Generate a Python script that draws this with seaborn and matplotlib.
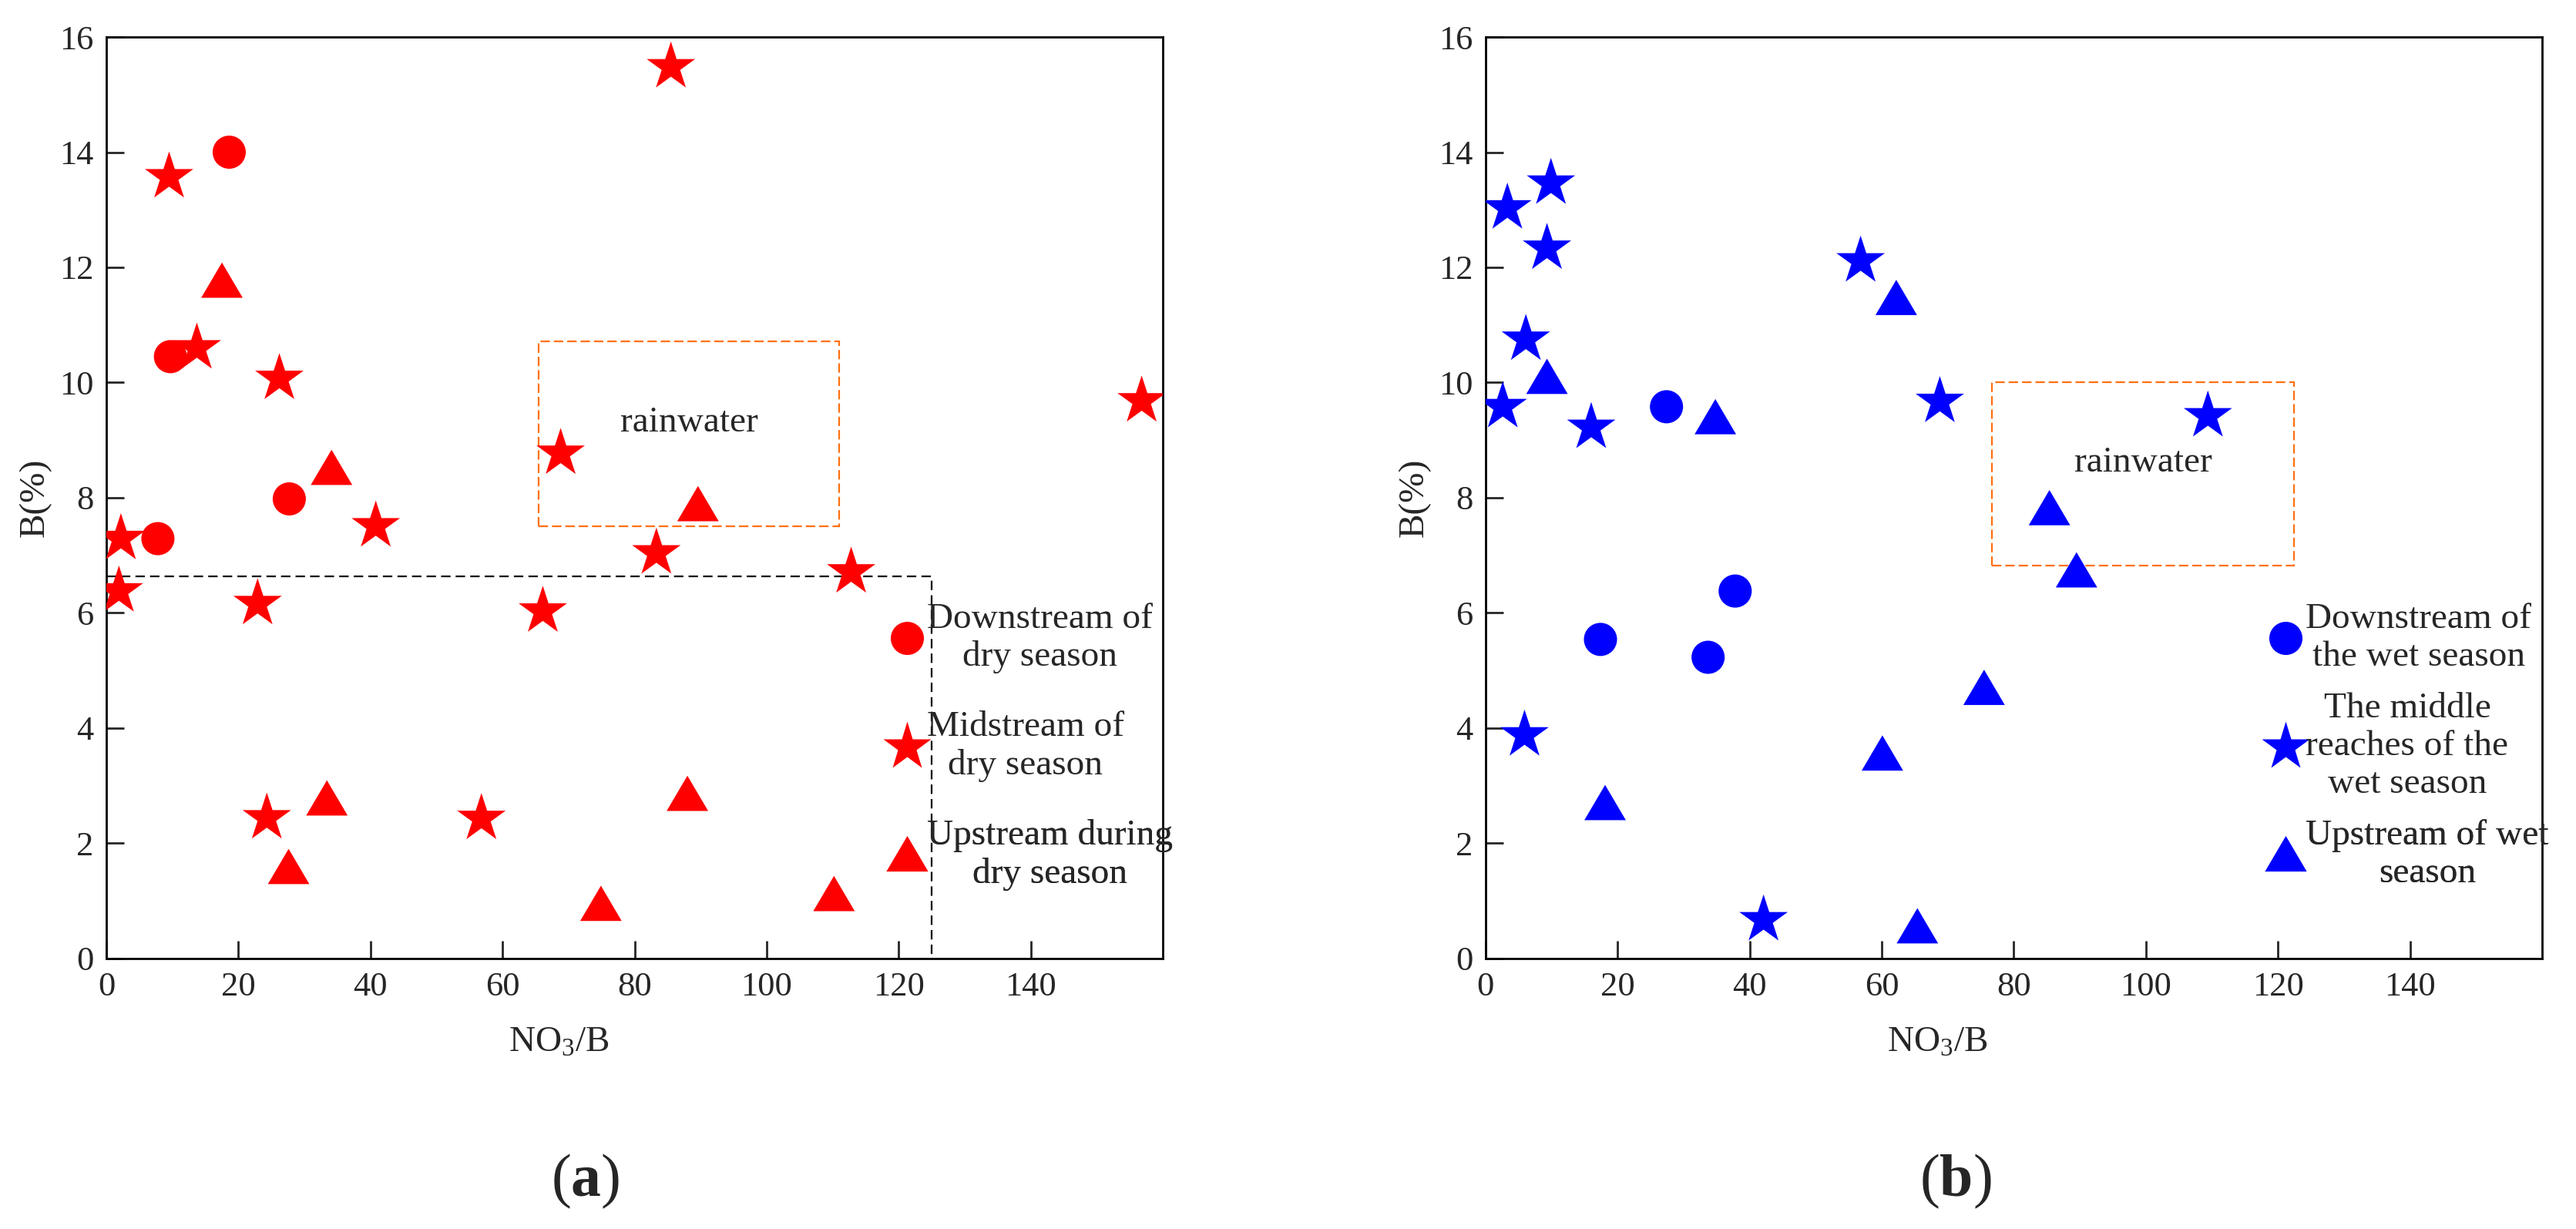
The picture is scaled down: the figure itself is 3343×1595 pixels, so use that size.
import numpy as np
import pandas as pd
import seaborn as sns
import matplotlib.pyplot as plt
from matplotlib.lines import Line2D
from matplotlib.patches import Rectangle

# panel (a) dry season
dry_down_x = [18.6, 9.7, 27.7, 7.8]
dry_down_y = [14.0, 10.45, 7.98, 7.29]
dry_mid_x = [85.5, 9.5, 13.7, 26.2, 156.8, 68.8, 40.8, 2.2, 83.3, 112.8, 1.9, 22.9, 66.1, 24.3, 56.8]
dry_mid_y = [15.48, 13.57, 10.6, 10.07, 9.68, 8.77, 7.51, 7.29, 7.04, 6.71, 6.38, 6.16, 6.03, 2.44, 2.43]
dry_up_x = [17.5, 34.1, 89.6, 33.4, 88.0, 27.6, 74.9, 110.2]
dry_up_y = [11.76, 8.51, 7.88, 2.77, 2.85, 1.58, 0.94, 1.11]

# panel (b) wet season
wet_down_x = [27.4, 37.8, 17.4, 33.7]
wet_down_y = [9.58, 6.38, 5.54, 5.23]
wet_mid_x = [9.9, 3.3, 9.3, 56.8, 6.1, 2.6, 16.0, 68.8, 109.4, 5.9, 42.1]
wet_mid_y = [13.46, 13.03, 12.33, 12.11, 10.75, 9.58, 9.22, 9.67, 9.42, 3.88, 0.67]
wet_up_x = [62.2, 9.3, 34.8, 85.4, 89.5, 75.5, 60.1, 18.1, 65.4]
wet_up_y = [11.46, 10.09, 9.39, 7.81, 6.73, 4.69, 3.55, 2.69, 0.55]

dry_labels = ["Downstream of\ndry season", "Midstream of\ndry season", "Upstream during\ndry season"]
wet_labels = ["Downstream of\nthe wet season", "The middle\nreaches of the\nwet season", "Upstream of wet\nseason"]

# rainwater boxes: (x0, x1, y0, y1)
rain_a = (65.5, 111.0, 7.51, 10.71)
rain_b = (76.7, 122.4, 6.82, 10.01)
# dashed limit box in (a)
limit_x = 125
limit_y = 6.63

sns.set_style("ticks")
plt.rcParams["font.family"] = ["Liberation Serif", "DejaVu Serif"]
plt.rcParams["mathtext.fontset"] = "custom"
plt.rcParams["mathtext.rm"] = "Liberation Serif"
plt.rcParams["mathtext.bf"] = "Liberation Serif:bold"
plt.rcParams["mathtext.it"] = "Liberation Serif:italic"

FS = 17
tri = [(0, 0.9), (-1, -0.8), (1, -0.8)]
markers = {"down": "o", "mid": "*", "up": tri}
sizes = {"down": 240, "mid": 566, "up": 376}
msizes = {"down": 15.5, "mid": 23.8, "up": 19.4}

fig = plt.figure(figsize=(16.715, 7.975), dpi=200)
ax_a = fig.add_axes([0.0413, 0.2201, 0.4101, 0.7498])
ax_b = fig.add_axes([0.5767, 0.2201, 0.4101, 0.7498])


def make_df(dx, dy, mx, my, ux, uy):
    return pd.concat([
        pd.DataFrame({"x": dx, "y": dy, "site": "down"}),
        pd.DataFrame({"x": mx, "y": my, "site": "mid"}),
        pd.DataFrame({"x": ux, "y": uy, "site": "up"}),
    ], ignore_index=True)


def draw(ax, df, color, labels, rain):
    sns.scatterplot(data=df, x="x", y="y", style="site", markers=markers,
                    size="site", sizes=sizes, color=color, linewidth=0,
                    edgecolor="none", legend=False, ax=ax, zorder=3)
    ax.set_xlim(0, 160)
    ax.set_ylim(0, 16)
    ax.set_xticks(np.arange(0, 141, 20))
    ax.set_yticks(np.arange(0, 17, 2))
    ax.tick_params(direction="in", length=8.3, width=1, labelsize=16, pad=6,
                   top=False, right=False)
    for s in ax.spines.values():
        s.set_visible(True)
        s.set_linewidth(1.0)
        s.set_color("black")
    ax.set_xlabel(r"NO$_3$/B", fontsize=FS)
    ax.set_ylabel("B(%)", fontsize=FS)
    ax.xaxis.set_label_coords(0.428, -0.074)
    ax.yaxis.set_label_coords(-0.052, 0.5)

    x0, x1, y0, y1 = rain
    ax.add_patch(Rectangle((x0, y0), x1 - x0, y1 - y0, fill=False,
                           edgecolor="#ff7010", linestyle=(0, (5.5, 2.3)), lw=0.8))
    ax.text((x0 + x1) / 2, y0 + (y1 - y0) * 0.56, "rainwater", fontsize=FS,
            ha="center", va="center")

    key_y = [5.56, 3.68, 1.8]
    for site, lab, ky in zip(["down", "mid", "up"], labels, key_y):
        h = Line2D([], [], ls="none", marker=markers[site], markersize=msizes[site],
                   color=color, mec="none")
        leg = ax.legend(handles=[h], labels=[lab], loc="center left",
                        bbox_to_anchor=(117.9, ky), bbox_transform=ax.transData,
                        frameon=False, borderpad=0, borderaxespad=0,
                        handlelength=1.2, handletextpad=-0.05, fontsize=FS)
        for t in leg.get_texts():
            t.set_multialignment("center")
        ax.add_artist(leg)


draw(ax_a, make_df(dry_down_x, dry_down_y, dry_mid_x, dry_mid_y, dry_up_x, dry_up_y),
     "#ff0000", dry_labels, rain_a)
ax_a.plot([0, limit_x, limit_x], [limit_y, limit_y, 0], color="black",
          lw=0.8, linestyle=(0, (5.5, 3)), zorder=2)

draw(ax_b, make_df(wet_down_x, wet_down_y, wet_mid_x, wet_mid_y, wet_up_x, wet_up_y),
     "#0000ff", wet_labels, rain_b)

fig.text(0.2273, 0.039, r"($\mathbf{a}$)", fontsize=28, ha="center", va="center")
fig.text(0.759, 0.039, r"($\mathbf{b}$)", fontsize=28, ha="center", va="center")

fig.savefig("out.png", dpi=200)
